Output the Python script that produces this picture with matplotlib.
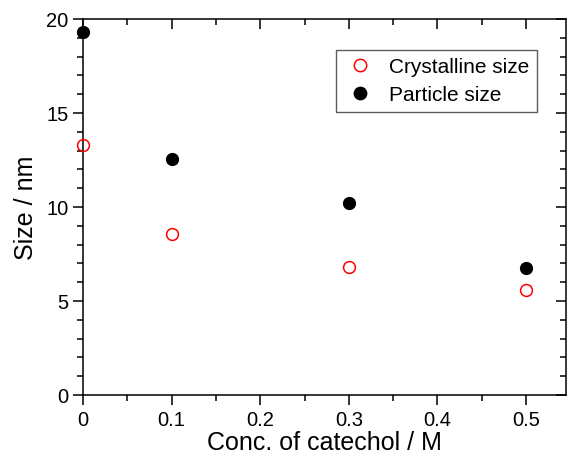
import numpy as np
import matplotlib
matplotlib.use("Agg")
import matplotlib.pyplot as plt
from matplotlib.ticker import MultipleLocator

plt.rcParams['font.family'] = ['Liberation Sans', 'DejaVu Sans']

# data
conc = [0.0, 0.1, 0.3, 0.5]
crystalline_size = [13.3, 8.56, 6.8, 5.6]
particle_size = [19.3, 12.55, 10.2, 6.75]

fig = plt.figure(figsize=(5.68, 4.56), dpi=100)
ax = fig.add_axes([0.146, 0.1316, 0.8505, 0.8246])

ax.plot(conc, crystalline_size, 'o', mfc='none', mec='red', mew=1.1, ms=8.5,
        label='Crystalline size', clip_on=False, zorder=3)
ax.plot(conc, particle_size, 'o', color='black', ms=8.5,
        label='Particle size', clip_on=False, zorder=3)

ax.set_xlim(0, 0.545)
ax.set_ylim(0, 20)
ax.xaxis.set_minor_locator(MultipleLocator(0.05))
ax.yaxis.set_major_locator(MultipleLocator(5))
ax.yaxis.set_minor_locator(MultipleLocator(1))
ax.set_xticks([0, 0.1, 0.2, 0.3, 0.4, 0.5])
ax.set_xticklabels(['0', '0.1', '0.2', '0.3', '0.4', '0.5'])

for s in ax.spines.values():
    s.set_linewidth(1.1)

ax.tick_params(which='both', direction='out', width=1.1, labelsize=14.5,
               top=False, right=False)
ax.tick_params(which='major', length=7)
ax.tick_params(which='minor', length=4)

# top and right axes: inward ticks, no labels
top = ax.secondary_xaxis('top')
right = ax.secondary_yaxis('right')
for sec in (top, right):
    sec.tick_params(which='both', direction='in', width=1.1)
    sec.tick_params(which='major', length=7)
    sec.tick_params(which='minor', length=4)
    sec.spines[:].set_visible(False)
top.xaxis.set_major_locator(MultipleLocator(0.1))
top.xaxis.set_minor_locator(MultipleLocator(0.05))
top.set_xticklabels([])
right.yaxis.set_major_locator(MultipleLocator(5))
right.yaxis.set_minor_locator(MultipleLocator(1))
right.set_yticklabels([])

ax.set_xlabel('Conc. of catechol / M', fontsize=18, labelpad=1)
ax.set_ylabel('Size / nm', fontsize=18, labelpad=6)

leg = ax.legend(loc='upper right', bbox_to_anchor=(0.94, 0.918), fontsize=15,
                frameon=True, fancybox=False, edgecolor='#333333',
                handletextpad=0.6, borderpad=0.35, labelspacing=0.45,
                handlelength=1.6, borderaxespad=0, markerscale=1.05)
leg.get_frame().set_linewidth(1.0)

fig.savefig('out.png', dpi=100)
